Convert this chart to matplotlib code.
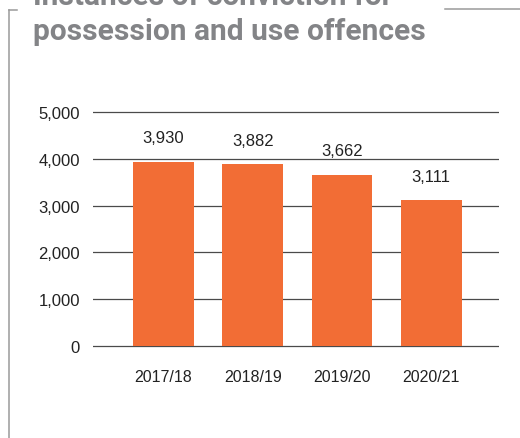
import matplotlib
matplotlib.use("Agg")
import matplotlib.pyplot as plt
from matplotlib.lines import Line2D
from matplotlib import font_manager

categories = ["2017/18", "2018/19", "2019/20", "2020/21"]
values = [3930, 3882, 3662, 3111]
value_labels = ["3,930", "3,882", "3,662", "3,111"]
yticks = [0, 1000, 2000, 3000, 4000, 5000]
ytick_labels = ["0", "1,000", "2,000", "3,000", "4,000", "5,000"]
title_lines = ["Instances of conviction for", "possession and use offences"]

W, H = 520, 439
fig = plt.figure(figsize=(W / 100, H / 100), dpi=100)
fig.patch.set_facecolor("white")

ax_left, ax_right = 93 / W, 499 / W
ax_bottom = 1 - 349.34 / H
ax_top = 1 - 110.66 / H
ax = fig.add_axes([ax_left, ax_bottom, ax_right - ax_left, ax_top - ax_bottom])

num_font = "Liberation Sans"
x = list(range(len(categories)))
ax.bar(x, values, width=0.68, color="#F26D35", zorder=3)
for xi, v, lab in zip(x, values, value_labels):
    ax.annotate(lab, (xi, v), xytext=(0, 12), textcoords="offset points",
                ha="center", va="bottom", fontsize=12, color="#222222",
                family=num_font)

ax.set_xlim(-0.79, 3.76)
ax.set_ylim(-50, 5050)
ax.set_yticks(yticks)
ax.set_yticklabels(ytick_labels, family=num_font, fontsize=12, color="#222222")
ax.set_xticks(x)
ax.set_xticklabels(categories, family=num_font, fontsize=11.5, color="#222222")
ax.tick_params(axis="y", length=0, pad=9.5)
ax.tick_params(axis="x", length=0, pad=15)
ax.yaxis.grid(True, color="#4a4a4a", linewidth=0.9, zorder=1)
ax.set_axisbelow(True)
for s in ax.spines.values():
    s.set_visible(False)

# title (top line clipped by figure edge, as in the reference)
title_kw = dict(ha="left", va="baseline", fontweight="bold", color="#838487",
                family="Roboto")
t2 = fig.text(33 / W, 1 - 40 / H, title_lines[1], fontsize=24, **title_kw)
fig.canvas.draw()
w = t2.get_window_extent().width
fs = 24 * 392 / w
t2.set_fontsize(fs)
t1 = fig.text(33 / W, 1 - 5 / H, title_lines[0], fontsize=fs, **title_kw)

# frame lines
fc = "#9a9a9a"
fig.add_artist(Line2D([9 / W, 9 / W], [1 - 11 / H, 0], transform=fig.transFigure, color=fc, lw=1.1))
fig.add_artist(Line2D([9 / W, 17 / W], [1 - 11 / H, 1 - 11 / H], transform=fig.transFigure, color=fc, lw=1.1))
fig.add_artist(Line2D([445 / W, 1], [1 - 10 / H, 1 - 10 / H], transform=fig.transFigure, color=fc, lw=1.1))

fig.savefig("out.png", dpi=100)
